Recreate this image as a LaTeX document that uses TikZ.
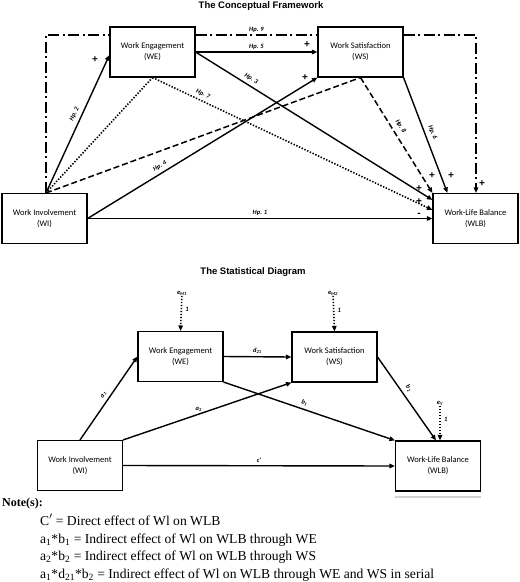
\documentclass[tikz,border=0pt]{standalone}
\usepackage{fontspec}
\setmainfont{Liberation Serif}
\newfontfamily\boxfont{Carlito}
\newfontfamily\titlefont{Liberation Sans}
\usetikzlibrary{arrows.meta,calc}
\begin{document}
\begin{tikzpicture}[x=1pt,y=-1pt,
  box/.style={draw,line width=1.1pt,fill=white,minimum width=85pt,minimum height=50pt,inner sep=0pt,align=center,font=\boxfont\fontsize{8.5}{11}\selectfont},
  arr/.style={-{Triangle[length=5.5pt,width=4.5pt]}},
  conn/.style={line width=1.4pt,arr},
  dotline/.style={line width=1.6pt,dash pattern=on 1.4pt off 1.6pt},
  dashline/.style={line width=1.5pt,dash pattern=on 6pt off 3pt},
  dashdot/.style={line width=1.5pt,dash pattern=on 11pt off 3.5pt on 2pt off 3.5pt},
  lbl/.style={font=\boxfont\bfseries\itshape\fontsize{6.5}{7}\selectfont,inner sep=1.2pt},
  sgn/.style={font=\titlefont\bfseries\fontsize{10}{10}\selectfont,inner sep=0pt},
  ttl/.style={font=\titlefont\bfseries\fontsize{9.5}{11}\selectfont},
  notefont/.style={font=\fontsize{13.6}{16}\selectfont,anchor=base west,inner sep=0pt}]
\useasboundingbox (0,0) rectangle (520,582);

% ---------- Conceptual framework ----------
\node[ttl] (t1) at (261,6) {The Conceptual Framework};
\node[box] (WE) at (152.5,52) {Work Engagement\\(WE)};
\node[box] (WS) at (360.5,52) {Work Satisfaction\\(WS)};
\node[box] (WI) at (44.5,218.5) {Work Involvement\\(WI)};
\node[box] (WLB) at (475.5,218.5) {Work-Life Balance\\(WLB)};

\coordinate (wt) at ($(WI.north)+(1.5,0)$);
\coordinate (dd1) at (46,35);
\coordinate (dd2) at (476,35);

% Hp. 9 dash-dot
\draw[dashdot] (wt) -- (dd1) -- (WE.west |- dd1);
\draw[dashdot] (WE.east |- dd1) -- node[lbl,above=1pt]{Hp. 9} (WS.west |- dd1);
\draw[dashdot,arr] (WS.east |- dd1) -- (dd2) -- (dd2 |- WLB.north);

\draw[conn] (wt) -- node[lbl,sloped,above=2.5pt,pos=0.55]{Hp. 2} ($(WE.west)+(0,3)$);
\draw[conn] (WE.east) -- node[lbl,above=1pt]{Hp. 5} (WS.west);
\draw[conn] (WE.east) -- node[lbl,sloped,above=2pt,pos=0.22]{Hp. 3} ($(WLB.north west)+(0,7)$);
\draw[conn] (WI.east) -- node[lbl,sloped,above=2pt,pos=0.33]{Hp. 4} (WS.south west);
\draw[conn] (WI.east) -- node[lbl,above=1pt]{Hp. 1} (WLB.west);
\draw[dotline] (wt) -- (WE.south);
\draw[dotline,arr] (WE.south) -- node[lbl,sloped,above=2pt,pos=0.17]{Hp. 7} ($(WLB.north west)+(0,17)$);
\draw[dashline] (wt) -- (WS.south);
\draw[dashline,arr] (WS.south) -- node[lbl,sloped,above=3.5pt,pos=0.46]{Hp. 8} (WLB.north west);
\draw[conn] (WS.south east) -- node[lbl,sloped,above=3pt,pos=0.5]{Hp. 6} ($(WLB.north west)+(15,0)$);

\node[sgn] (s1) at (95,60) {+};
\node[sgn] (s2) at (307,45) {+};
\node[sgn] (s3) at (305,78) {+};
\node[sgn] (s4) at (432,176) {+};
\node[sgn] (s5) at (451,176) {+};
\node[sgn] (s6) at (482,184) {+};
\node[sgn] (s7) at (419,189) {+};
\node[sgn] (s8) at (419,202) {+};
\node[sgn] (s9) at (419,215) {-};

% ---------- Statistical diagram ----------
\node[ttl] (t2) at (253,272) {The Statistical Diagram};
\node[box] (WE2) at (180.5,356.5) {Work Engagement\\(WE)};
\node[box] (WS2) at (334.5,357) {Work Satisfaction\\(WS)};
\node[box] (WI2) at (80,465.5) {Work Involvement\\(WI)};
\node[box] (WLB2) at (438,466) {Work-Life Balance\\(WLB)};
\draw[gray!35,line width=2pt] ($(WLB2.south west)+(0,5)$) -- ($(WLB2.south east)+(0,5)$);

\node[lbl,inner sep=0.5pt] (eM1) at (182,293) {e\textsubscript{M1}};
\node[lbl,inner sep=0.5pt] (eM2) at (333,293) {e\textsubscript{M2}};
\node[lbl,inner sep=0.5pt] (eY) at (440,403) {e\textsubscript{Y}};
\draw[dotline,arr] (eM1) -- node[lbl,right=2pt,pos=0.4]{1} (WE2.north);
\draw[dotline,arr] (eM2) -- node[lbl,right=2pt,pos=0.4]{1} (WS2.north);
\draw[dotline,arr] (eY) -- node[lbl,right=2pt,pos=0.4]{1} ($(WLB2.north)+(2,0)$);

\draw[conn] (WI2.north) -- node[lbl,sloped,above=2pt,pos=0.5]{a\textsubscript{1}} (WE2.west);
\draw[conn] (WE2.east) -- node[lbl,above=1pt]{d\textsubscript{21}} (WS2.west);
\draw[conn] (WI2.north east) -- node[lbl,above=1pt,pos=0.45]{a\textsubscript{2}} (WS2.south west);
\draw[conn] (WE2.south east) -- node[lbl,sloped,above=2pt,pos=0.46]{b\textsubscript{1}} (WLB2.north west);
\draw[conn] (WS2.east) -- node[lbl,sloped,above=3pt,pos=0.43]{b\textsubscript{2}} ($(WLB2.north)+(-2,0)$);
\draw[conn] (WI2.east) -- node[lbl,above=1pt]{c'} (WLB2.west);

% ---------- Notes ----------
\node[notefont,font=\bfseries\fontsize{12}{15}\selectfont] (note) at (2,506) {Note(s):};
\node[notefont] (n1) at (40,525) {C$'$ = Direct effect of Wl on WLB};
\node[notefont] (n2) at (40,543) {a\textsubscript{1}*b\textsubscript{1} = Indirect effect of Wl on WLB through WE};
\node[notefont] (n3) at (40,560.5) {a\textsubscript{2}*b\textsubscript{2} = Indirect effect of Wl on WLB through WS};
\node[notefont] (n4) at (40,578) {a\textsubscript{1}*d\textsubscript{21}*b\textsubscript{2} = Indirect effect of Wl on WLB through WE and WS in serial};
\end{tikzpicture}
\end{document}
